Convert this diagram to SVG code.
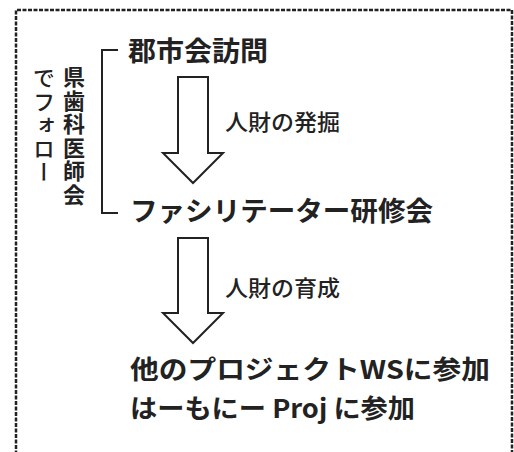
<svg xmlns="http://www.w3.org/2000/svg" width="514" height="452" viewBox="0 0 514 452">
<style>
.t{font-family:"Noto Sans CJK JP","Liberation Sans",sans-serif;fill:#222}
.main{font-size:27px;font-weight:bold}
.lbl{font-size:22px;font-weight:500}
.vt{font-size:22px;font-weight:bold;writing-mode:vertical-rl;letter-spacing:1.5px}
.ln{fill:none;stroke:#222;stroke-width:2}
.arr{fill:#fff;stroke:#222;stroke-width:2;stroke-linejoin:miter}
</style>
<rect width="514" height="452" fill="#fff"/>
<g id="frame">
<path d="M16,460 V10 H512 V460" fill="none" stroke="#222" stroke-width="2.5" stroke-dasharray="4,1.5"/>
</g>
<g id="bracket">
<path class="ln" d="M118,50 H102 V213 H118"/>
</g>
<g id="side-label">
<text class="t vt" x="74" y="66">県歯科医師会</text>
<text class="t vt" x="44" y="67" style="font-weight:500">でフォロー</text>
</g>
<g id="node-visit">
<text class="t main" x="128" y="61" textLength="140" lengthAdjust="spacingAndGlyphs">郡市会訪問</text>
</g>
<g id="node-training">
<text class="t main" x="130" y="221" textLength="303" lengthAdjust="spacingAndGlyphs">ファシリテーター研修会</text>
</g>
<g id="node-projects">
<text class="t main" style="font-size:26px" x="130" y="379" textLength="360" lengthAdjust="spacingAndGlyphs">他のプロジェクトWSに参加</text>
<text class="t main" style="font-size:26px" x="130" y="418" textLength="285" lengthAdjust="spacingAndGlyphs">はーもにー Proj に参加</text>
</g>
<g id="connectors">
<path class="arr" d="M178,77 H208 V153 H223 L193,183 L163,153 H178 Z"/>
<text class="t lbl" x="225" y="130" textLength="115" lengthAdjust="spacingAndGlyphs">人財の発掘</text>
<path class="arr" d="M178,238 H208 V313 H223 L193,343 L163,313 H178 Z"/>
<text class="t lbl" x="225" y="296" textLength="115" lengthAdjust="spacingAndGlyphs">人財の育成</text>
</g>
</svg>
